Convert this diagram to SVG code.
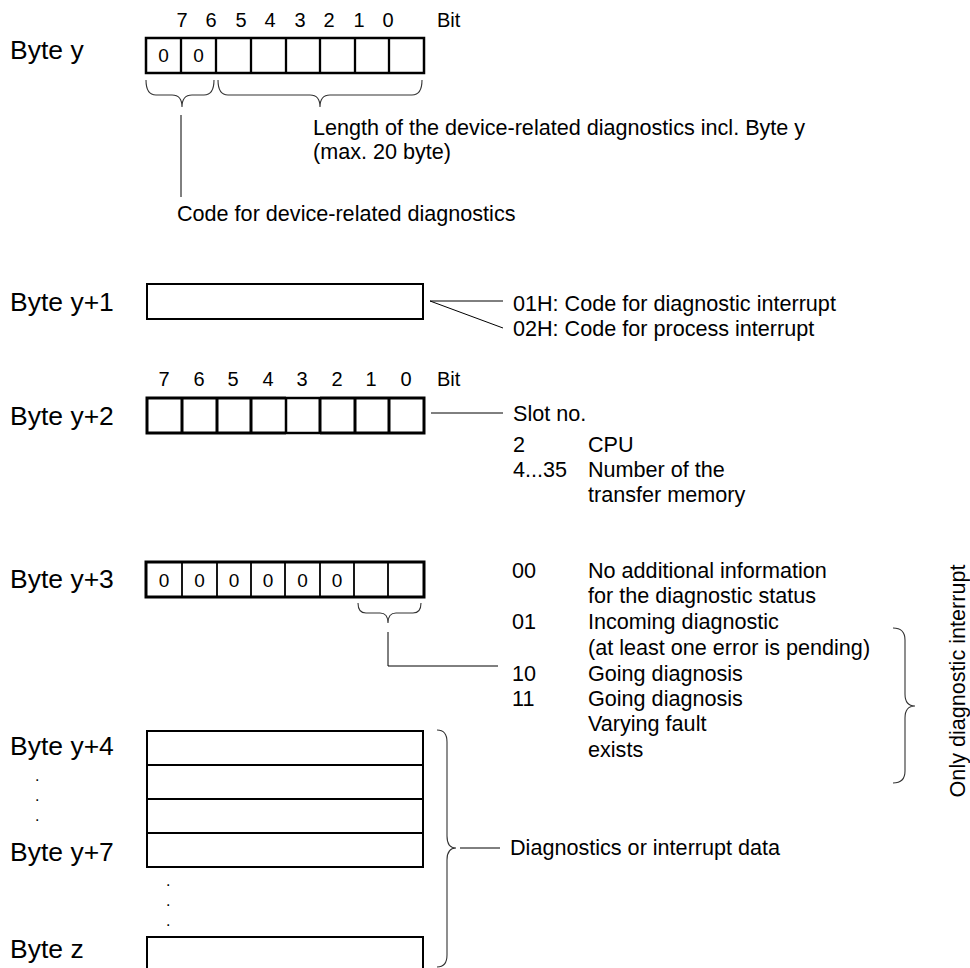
<svg xmlns="http://www.w3.org/2000/svg" width="970" height="968" viewBox="0 0 970 968">
<style>
text{font-family:"Liberation Sans",Arial,sans-serif;fill:#000}
.lbl{font-size:26.5px}
.bit{font-size:20px;text-anchor:middle}
.bitw{font-size:20px}
.z{font-size:19px;text-anchor:middle}
.d{font-size:21.6px}
.dot{font-size:16px}
.box{fill:#fff;stroke:#000}
.thin{fill:none;stroke:#000;stroke-width:1}
.br{fill:none;stroke:#333;stroke-width:1.1}
</style>
<rect width="970" height="968" fill="#fff"/>

<g id="byte-y">
  <text class="lbl" x="10" y="59">Byte y</text>
  <g>
    <text class="bit" x="182" y="27">7</text><text class="bit" x="211" y="27">6</text>
    <text class="bit" x="241" y="27">5</text><text class="bit" x="270" y="27">4</text>
    <text class="bit" x="300" y="27">3</text><text class="bit" x="329" y="27">2</text>
    <text class="bit" x="359" y="27">1</text><text class="bit" x="388" y="27">0</text>
    <text class="bitw" x="437" y="27">Bit</text>
  </g>
  <rect class="box" x="146" y="38" width="278" height="35" stroke-width="2.5"/>
  <path d="M181,38V73M216,38V73M251,38V73M286,38V73M320,38V73M355,38V73M389,38V73" stroke="#000" stroke-width="2.3" fill="none"/>
  <text class="z" x="163.5" y="62">0</text><text class="z" x="198.5" y="62">0</text>
  <path class="br" d="M146,80 Q146,95 156,95 L172,95 Q182,95 182,107 Q182,95 192,95 L204,95 Q214,95 214,80"/>
  <path class="br" d="M218,80 Q218,95 228,95 L310,95 Q320,95 320,107 Q320,95 330,95 L412,95 Q422,95 422,80"/>
  <text class="d" x="313" y="135">Length of the device-related diagnostics incl. Byte y</text>
  <text class="d" x="313" y="159">(max. 20 byte)</text>
  <text class="d" x="177" y="221">Code for device-related diagnostics</text>
</g>

<g id="byte-y1">
  <text class="lbl" x="10" y="311">Byte y+1</text>
  <rect class="box" x="147" y="284" width="276" height="35" stroke-width="2"/>
  <text class="d" x="513" y="311">01H: Code for diagnostic interrupt</text>
  <text class="d" x="513" y="336">02H: Code for process interrupt</text>
</g>

<g id="byte-y2">
  <text class="lbl" x="10" y="425">Byte y+2</text>
  <text class="bit" x="164" y="386">7</text><text class="bit" x="199" y="386">6</text>
  <text class="bit" x="233" y="386">5</text><text class="bit" x="268" y="386">4</text>
  <text class="bit" x="302" y="386">3</text><text class="bit" x="337" y="386">2</text>
  <text class="bit" x="371" y="386">1</text><text class="bit" x="406" y="386">0</text>
  <text class="bitw" x="437" y="386">Bit</text>
  <rect x="147" y="398" width="277" height="35" fill="#fff"/>
  <path d="M286,398H320M286,433H320M286,398V433" stroke="#000" stroke-width="2.5" fill="none"/>
  <path d="M147,398H286M320,398H424M147,433H286M320,433H424M147,396.5V434.5M182,398V433M217,398V433M251,398V433M320,398V433M355,398V433M389,398V433M424,396.5V434.5" stroke="#000" stroke-width="3" fill="none"/>
  <text class="d" x="513" y="421">Slot no.</text>
  <text class="d" x="513" y="452">2</text><text class="d" x="588" y="452">CPU</text>
  <text class="d" x="513" y="477">4...35</text><text class="d" x="588" y="477">Number of the</text>
  <text class="d" x="588" y="502">transfer memory</text>
</g>

<g id="byte-y3">
  <text class="lbl" x="10" y="588">Byte y+3</text>
  <rect class="box" x="146" y="562" width="278" height="35" stroke-width="3"/>
  <path d="M182,562V597M217,562V597M251,562V597M285,562V597M320,562V597M354,562V597M388,562V597" stroke="#000" stroke-width="1.8" fill="none"/>
  <text class="z" x="164" y="587">0</text><text class="z" x="199.5" y="587">0</text>
  <text class="z" x="234" y="587">0</text><text class="z" x="268" y="587">0</text>
  <text class="z" x="302.5" y="587">0</text><text class="z" x="337" y="587">0</text>
  <path class="br" d="M358,603 Q358,613 366,613 L380,613 Q388,613 388,623 Q388,613 396,613 L413,613 Q421,613 421,603"/>
  <text class="d" x="512" y="578">00</text><text class="d" x="588" y="578">No additional information</text>
  <text class="d" x="588" y="603">for the diagnostic status</text>
  <text class="d" x="512" y="629">01</text><text class="d" x="588" y="629">Incoming diagnostic</text>
  <text class="d" x="588" y="655">(at least one error is pending)</text>
  <text class="d" x="512" y="681">10</text><text class="d" x="588" y="681">Going diagnosis</text>
  <text class="d" x="512" y="706">11</text><text class="d" x="588" y="706">Going diagnosis</text>
  <text class="d" x="588" y="731">Varying fault</text>
  <text class="d" x="588" y="757">exists</text>
  <path class="br" d="M893,628 Q905,628 905,640 L905,694 Q905,706 915,706 Q905,706 905,718 L905,771 Q905,783 893,783"/>
  <text class="d" transform="translate(965,681) rotate(-90)" text-anchor="middle">Only diagnostic interrupt</text>
</g>

<g id="byte-y4-z">
  <text class="lbl" x="10" y="755">Byte y+4</text>
  <text class="dot" x="35" y="781">.</text>
  <text class="dot" x="35" y="801">.</text>
  <text class="dot" x="35" y="821">.</text>
  <text class="lbl" x="10" y="861">Byte y+7</text>
  <rect class="box" x="147" y="731" width="276" height="136" stroke-width="2"/>
  <path d="M147,765H423M147,799H423M147,833H423" stroke="#000" stroke-width="2" fill="none"/>
  <text class="dot" x="166" y="886">.</text>
  <text class="dot" x="166" y="906">.</text>
  <text class="dot" x="166" y="926">.</text>
  <text class="lbl" x="10" y="958">Byte z</text>
  <rect class="box" x="147" y="937" width="276" height="36" stroke-width="2"/>
  <path class="br" d="M437,730 Q447,730 447,742 L447,836 Q447,848 456,848 Q447,848 447,860 L447,955 Q447,967 437,967"/>
  <text class="d" x="510" y="855">Diagnostics or interrupt data</text>
</g>

<g id="connectors">
  <path class="thin" d="M181,115V197"/>
  <path class="thin" d="M430,301H503M430,301L503,328"/>
  <path class="thin" d="M431,413H503"/>
  <path class="thin" d="M388,632V666H498"/>
  <path class="thin" d="M460,848H500"/>
</g>
</svg>
